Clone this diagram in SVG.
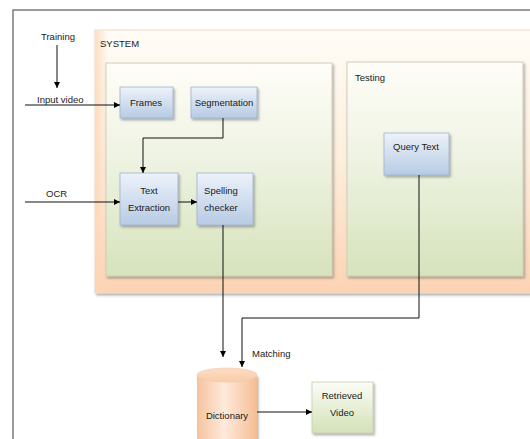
<svg xmlns="http://www.w3.org/2000/svg" width="530" height="439" viewBox="0 0 530 439">
<defs>
<linearGradient id="gOrange" x1="0" y1="0" x2="0" y2="1">
<stop offset="0" stop-color="#fffcf6"/>
<stop offset="0.5" stop-color="#fdeedd"/>
<stop offset="1" stop-color="#fcd3b3"/>
</linearGradient>
<linearGradient id="gOrangeL" x1="0" y1="0" x2="1" y2="0">
<stop offset="0" stop-color="#fcd6b8" stop-opacity="0.8"/>
<stop offset="1" stop-color="#fcd6b8" stop-opacity="0"/>
</linearGradient>
<linearGradient id="gGreen" x1="0" y1="0" x2="0" y2="1">
<stop offset="0" stop-color="#fffdf8"/>
<stop offset="0.45" stop-color="#eef3e2"/>
<stop offset="1" stop-color="#d6e3bc"/>
</linearGradient>
<linearGradient id="gBlue" x1="0" y1="0" x2="0" y2="1">
<stop offset="0" stop-color="#edf2fa"/>
<stop offset="1" stop-color="#b7cbe4"/>
</linearGradient>
<linearGradient id="gRV" x1="0" y1="0" x2="0" y2="1">
<stop offset="0" stop-color="#fbfcf6"/>
<stop offset="1" stop-color="#d3e2b8"/>
</linearGradient>
<linearGradient id="gCyl" x1="0" y1="0" x2="1" y2="0">
<stop offset="0" stop-color="#f6c39d"/>
<stop offset="0.45" stop-color="#feeadb"/>
<stop offset="1" stop-color="#f5be94"/>
</linearGradient>
<linearGradient id="gCylTop" x1="0" y1="0" x2="0" y2="1">
<stop offset="0" stop-color="#fddcc4"/>
<stop offset="1" stop-color="#f9cda9"/>
</linearGradient>
<marker id="arr" viewBox="0 0 8 8" refX="8" refY="4" markerWidth="6" markerHeight="6" markerUnits="userSpaceOnUse" orient="auto">
<path d="M0,0 L8,4 L0,8 z" fill="#000"/>
</marker>
<filter id="sh" x="-10%" y="-10%" width="130%" height="130%">
<feDropShadow dx="1.5" dy="2" stdDeviation="1" flood-color="#555" flood-opacity="0.45"/>
</filter>
</defs>
<style>
text { font-family: "Liberation Sans", Arial, sans-serif; font-size: 9.5px; fill: #1a1a1a; }
.c { text-anchor: middle; }
.blue { fill: url(#gBlue); stroke: #9fb4d2; stroke-width: 0.8; filter: url(#sh); }
.green { fill: url(#gGreen); stroke: #cfcfb8; stroke-width: 1; filter: url(#sh); }
.conn { fill: none; stroke: #111; stroke-width: 1; }
</style>
<rect x="0" y="0" width="530" height="439" fill="#fff"/>
<rect id="frame" x="13" y="10" width="530" height="440" fill="none" stroke="#5a5a5a" stroke-width="1.2"/>

<g id="system">
<rect x="95" y="30" width="450" height="263" fill="url(#gOrange)" stroke="#eadcc6" stroke-width="1" filter="url(#sh)"/>
<rect x="95.5" y="30.5" width="12" height="262" fill="url(#gOrangeL)"/>
<text x="100" y="47">SYSTEM</text>
</g>
<g id="training-box">
<rect class="green" x="106" y="63" width="226" height="213"/>
</g>
<g id="testing">
<rect class="green" x="347" y="62" width="176" height="214"/>
<text x="355" y="81">Testing</text>
</g>

<g id="training"><text class="c" x="58" y="40">Training</text></g>
<g id="input-video"><text x="37" y="103">Input video</text></g>
<g id="ocr"><text x="46" y="197">OCR</text></g>

<g id="frames">
<rect class="blue" x="120" y="87" width="53" height="31"/>
<text class="c" x="146" y="106">Frames</text>
</g>
<g id="segmentation">
<rect class="blue" x="191" y="87" width="66" height="31"/>
<text class="c" x="224" y="106">Segmentation</text>
</g>
<g id="text-extraction">
<rect class="blue" x="120" y="173" width="58" height="52"/>
<text class="c" x="149" y="194">Text</text>
<text class="c" x="149" y="211">Extraction</text>
</g>
<g id="spelling-checker">
<rect class="blue" x="197" y="173" width="56" height="52"/>
<text class="c" x="221" y="194">Spelling</text>
<text class="c" x="221" y="211">checker</text>
</g>
<g id="query-text">
<rect class="blue" x="384" y="133" width="65" height="42"/>
<text class="c" x="416" y="150">Query Text</text>
</g>

<g id="dictionary">
<path d="M197,375 L197,450 L257,450 L257,375 Z" fill="url(#gCyl)" filter="url(#sh)"/>
<ellipse cx="227" cy="375" rx="30" ry="7" fill="url(#gCylTop)" stroke="#f1c9a8" stroke-width="0.6"/>
<text class="c" x="227" y="419">Dictionary</text>
</g>
<g id="retrieved-video">
<rect x="312" y="382" width="61" height="51" fill="url(#gRV)" stroke="#c5cfae" stroke-width="0.8" filter="url(#sh)"/>
<text class="c" x="342" y="399">Retrieved</text>
<text class="c" x="342" y="416">Video</text>
</g>
<g id="matching"><text x="252" y="357">Matching</text></g>

<g id="connectors">
<path class="conn" d="M57,45 L57,88" marker-end="url(#arr)"/>
<path class="conn" d="M25,105 L120,105" marker-end="url(#arr)"/>
<path class="conn" d="M223,118 L223,138 L143,138 L143,173" marker-end="url(#arr)"/>
<path class="conn" d="M25,202 L120,202" marker-end="url(#arr)"/>
<path class="conn" d="M178,202 L197,202" marker-end="url(#arr)"/>
<path class="conn" d="M223,225 L223,357" marker-end="url(#arr)"/>
<path class="conn" d="M419,175 L419,318 L242,318 L242,367" marker-end="url(#arr)"/>
<path class="conn" d="M257,412 L312,412" marker-end="url(#arr)"/>
</g>
</svg>
